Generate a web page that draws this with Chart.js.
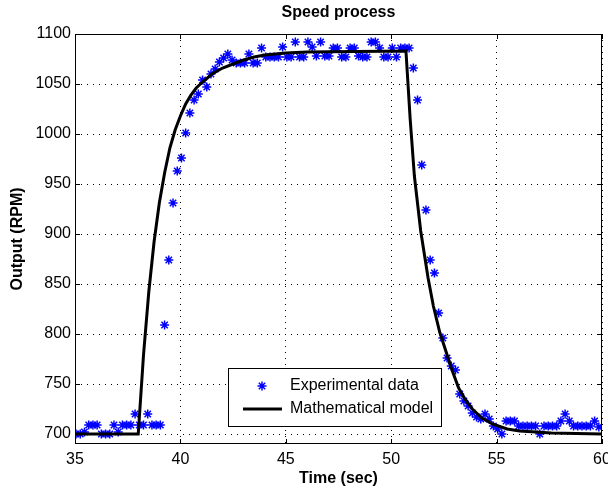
<!DOCTYPE html>
<html>
<head>
<meta charset="utf-8">
<script src="https://cdn.jsdelivr.net/npm/chart.js@4.4.1/dist/chart.umd.min.js"></script>
<style>
html, body { margin: 0; padding: 0; background: #fff; }
#wrap { width: 608px; height: 492px; }
</style>
</head>
<body>
<div id="wrap"><canvas id="chart-speed" width="608" height="492"></canvas></div>
<script>
const expTime = [
    35.05, 35.25, 35.45, 35.65, 35.85, 36.05, 36.25, 36.45, 36.65, 36.85,
    37.05, 37.25, 37.45, 37.65, 37.85, 38.05, 38.25, 38.45, 38.65, 38.85,
    39.05, 39.25, 39.45, 39.65, 39.85, 40.05, 40.25, 40.45, 40.65, 40.85,
    41.05, 41.25, 41.45, 41.65, 41.85, 42.05, 42.25, 42.45, 42.65, 42.85,
    43.05, 43.25, 43.45, 43.65, 43.85, 44.05, 44.25, 44.45, 44.65, 44.85,
    45.05, 45.25, 45.45, 45.65, 45.85, 46.05, 46.25, 46.45, 46.65, 46.85,
    47.05, 47.25, 47.45, 47.65, 47.85, 48.05, 48.25, 48.45, 48.65, 48.85,
    49.05, 49.25, 49.45, 49.65, 49.85, 50.05, 50.25, 50.45, 50.65, 50.85,
    51.05, 51.25, 51.45, 51.65, 51.85, 52.05, 52.25, 52.45, 52.65, 52.85,
    53.05, 53.25, 53.45, 53.65, 53.85, 54.05, 54.25, 54.45, 54.65, 54.85,
    55.05, 55.25, 55.45, 55.65, 55.85, 56.05, 56.25, 56.45, 56.65, 56.85,
    57.05, 57.25, 57.45, 57.65, 57.85, 58.05, 58.25, 58.45, 58.65, 58.85,
    59.05, 59.25, 59.45, 59.65, 59.85
];
const expRpm = [
    700, 700, 702, 709, 709, 709, 700, 700, 700, 709,
    702, 709, 709, 709, 720, 709, 709, 720, 709, 709,
    709, 809, 874, 931, 963, 976, 1001, 1021, 1034, 1040,
    1054, 1047, 1060, 1065, 1072, 1076, 1080, 1074, 1071, 1071,
    1071, 1080, 1071, 1071, 1086, 1077, 1077, 1077, 1077, 1087,
    1077, 1077, 1092, 1077, 1077, 1092, 1087, 1078, 1092, 1078,
    1078, 1086, 1086, 1077, 1077, 1086, 1086, 1078, 1077, 1077,
    1092, 1092, 1086, 1077, 1077, 1086, 1077, 1086, 1086, 1086,
    1066, 1034, 969, 924, 874, 861, 821, 796, 776, 768,
    764, 740, 733, 728, 721, 717, 715, 720, 715, 708,
    705, 700, 713, 713, 713, 708, 708, 708, 708, 708,
    700, 708, 708, 708, 708, 713, 720, 713, 708, 708,
    708, 708, 708, 713, 707
];

const modelTime = [
    35, 38.0, 38.25, 38.5, 38.75, 39.0, 39.25, 39.5, 39.75, 40.0,
    40.25, 40.5, 40.75, 41.0, 41.5, 42.0, 42.5, 43.0, 43.5, 44.0,
    45.0, 46.0, 50.7, 50.9, 51.1, 51.4, 51.75, 52.0, 52.3, 52.5,
    52.85, 53.2, 53.5, 53.85, 54.3, 54.8, 55.5, 56.1, 57.6, 60
];
const modelRpm = [
    700, 700, 779, 842, 892, 931, 961, 986, 1004, 1018,
    1030, 1039, 1046, 1051, 1060, 1066, 1070, 1074, 1077, 1079,
    1081, 1082, 1083, 1015, 958, 903, 856, 828, 802, 789,
    766, 746, 735, 725, 716, 710, 705, 703, 701, 700
];

const xTicks = [35, 40, 45, 50, 55, 60];
const yTicks = [700, 750, 800, 850, 900, 950, 1000, 1050, 1100];

const FONT = "'Liberation Sans', Arial, Helvetica, sans-serif";
const BLUE = '#0000ff';

function toPoints(xs, ys) {
    const pts = [];
    for (let i = 0; i < xs.length; i++) {
        pts.push({x: xs[i], y: ys[i]});
    }
    return pts;
}

function drawStar(ctx, x, y, r) {
    const d = r * Math.SQRT1_2;
    ctx.beginPath();
    ctx.moveTo(x - r, y); ctx.lineTo(x + r, y);
    ctx.moveTo(x, y - r); ctx.lineTo(x, y + r);
    ctx.moveTo(x - d, y - d); ctx.lineTo(x + d, y + d);
    ctx.moveTo(x - d, y + d); ctx.lineTo(x + d, y - d);
    ctx.stroke();
}

// frame, inward ticks, title and the boxed legend, matlab style
const figureDecor = {
    id: 'figureDecor',
    afterDatasetsDraw(chart) {
        const {ctx, chartArea: a, scales} = chart;
        ctx.save();
        ctx.strokeStyle = '#000';
        ctx.lineWidth = 1;
        ctx.strokeRect(a.left + 0.5, a.top + 0.5, a.right - a.left - 1, a.bottom - a.top - 1);
        ctx.beginPath();
        for (const v of xTicks) {
            const px = Math.round(scales.x.getPixelForValue(v)) + 0.5;
            ctx.moveTo(px, a.bottom); ctx.lineTo(px, a.bottom - 5);
            ctx.moveTo(px, a.top); ctx.lineTo(px, a.top + 5);
        }
        for (const v of yTicks) {
            const py = Math.round(scales.y.getPixelForValue(v)) + 0.5;
            ctx.moveTo(a.left, py); ctx.lineTo(a.left + 5, py);
            ctx.moveTo(a.right, py); ctx.lineTo(a.right - 5, py);
        }
        ctx.stroke();
        ctx.restore();
    },
    afterDraw(chart) {
        const {ctx, chartArea: a} = chart;
        ctx.save();
        ctx.fillStyle = '#000';
        ctx.font = 'bold 16px ' + FONT;
        ctx.textAlign = 'center';
        ctx.textBaseline = 'middle';
        ctx.fillText('Speed process', (a.left + a.right) / 2, 13);

        // legend box
        const bx = 228.5, by = 368.5, bw = 213, bh = 58;
        ctx.fillStyle = '#fff';
        ctx.fillRect(bx, by, bw, bh);
        ctx.strokeStyle = '#000';
        ctx.lineWidth = 1;
        ctx.strokeRect(bx, by, bw, bh);

        ctx.strokeStyle = BLUE;
        ctx.lineWidth = 1.5;
        drawStar(ctx, 262, 386, 4.5);

        ctx.strokeStyle = '#000';
        ctx.lineWidth = 3;
        ctx.beginPath();
        ctx.moveTo(243, 409); ctx.lineTo(282, 409);
        ctx.stroke();

        ctx.fillStyle = '#000';
        ctx.font = '16px ' + FONT;
        ctx.textAlign = 'left';
        ctx.fillText('Experimental data', 290, 386);
        ctx.fillText('Mathematical model', 290, 409);
        ctx.restore();
    }
};

const data = {
    datasets: [
        {
            label: 'Mathematical model',
            data: toPoints(modelTime, modelRpm),
            showLine: true,
            borderColor: '#000',
            borderWidth: 3,
            pointRadius: 0,
            tension: 0,
        },
        {
            label: 'Experimental data',
            data: toPoints(expTime, expRpm),
            showLine: false,
            pointStyle: 'star',
            pointRadius: 4.5,
            borderColor: BLUE,
            backgroundColor: BLUE,
            borderWidth: 1.5,
        },
    ]
};

const options = {
    responsive: false,
    animation: false,
    devicePixelRatio: 1,
    layout: {padding: {top: 34, right: 5, left: 0, bottom: 0}},
    plugins: {
        legend: {display: false},
        tooltip: {enabled: false},
        title: {display: false},
    },
    scales: {
        x: {
            type: 'linear',
            min: 35,
            max: 60,
            afterBuildTicks: (scale) => { scale.ticks = xTicks.map(v => ({value: v})); },
            afterFit: (scale) => {
                scale.height = 48;
                scale.paddingLeft = 0;
                scale.paddingRight = 0;
            },
            ticks: {
                color: '#000',
                font: {family: FONT, size: 16},
                padding: 6,
                maxRotation: 0,
                callback: (v) => String(v),
            },
            grid: {color: '#000', lineWidth: 1, drawTicks: false},
            border: {display: false, dash: [1, 5]},
            title: {
                display: true,
                text: 'Time (sec)',
                color: '#000',
                font: {family: FONT, size: 16, weight: 'bold'},
                padding: {top: 4, bottom: 4},
            },
        },
        y: {
            type: 'linear',
            min: 690,
            max: 1100,
            afterBuildTicks: (scale) => { scale.ticks = yTicks.map(v => ({value: v})); },
            afterFit: (scale) => {
                scale.width = 75;
                scale.paddingTop = 0;
                scale.paddingBottom = 0;
            },
            ticks: {
                color: '#000',
                font: {family: FONT, size: 16},
                padding: 4,
                callback: (v) => String(v),
            },
            grid: {color: '#000', lineWidth: 1, drawTicks: false},
            border: {display: false, dash: [1, 5]},
            title: {
                display: true,
                text: 'Output (RPM)',
                color: '#000',
                font: {family: FONT, size: 16, weight: 'bold'},
                padding: {top: 8, bottom: 8},
            },
        },
    },
};

const elSpeed = document.getElementById('chart-speed');
const chart = new Chart(elSpeed, {
    type: 'scatter',
    data,
    options,
    plugins: [figureDecor],
});
</script>
</body>
</html>
